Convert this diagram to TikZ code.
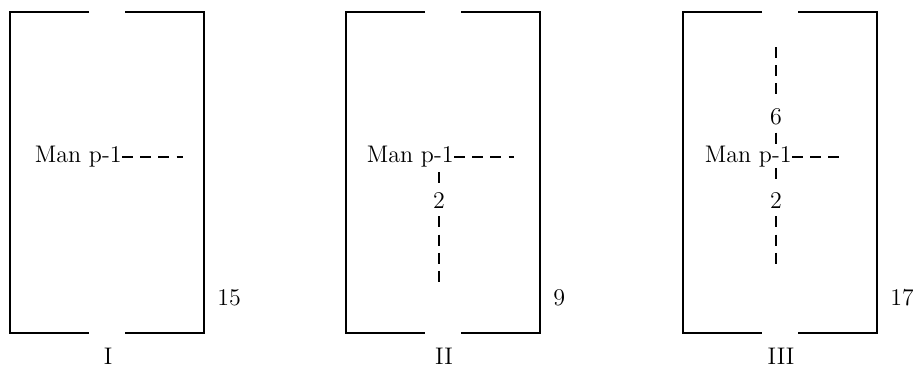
\documentclass[tikz,border=0pt]{standalone}
\usepackage{tikz}
\usetikzlibrary{positioning,calc}

\begin{document}
\begin{tikzpicture}[x=0.5pt, y=-0.5pt,
  wall/.style={draw=black, line width=0.7pt},
  dsh/.style={draw=black, line width=0.65pt, dash pattern=on 5.5pt off 3.6pt},
  lbl/.style={font=\large, inner sep=0pt},
  num/.style={font=\large, inner sep=3.5pt},
]
\useasboundingbox (0,0) rectangle (913,376);
% Three rooms: left edge / right edge / count / roman label
\foreach \L/\R/\n/\r/\id in {10/204/15/I/a, 346/540/9/II/b, 683/877/17/III/c} {
  \draw[wall] (\L+79,12) -- (\L,12) -- (\L,333) -- (\L+79,333);
  \draw[wall] (\L+115,12) -- (\R,12) -- (\R,333) -- (\L+115,333);
  \node[lbl, anchor=west] (cnt\id) at (\R+13,298) {\n};
  \node[lbl] (room\id) at (\L+98,356) {\r};
}

% Room I
\node[lbl, anchor=east] (manI) at (122,157) {Man p-1};
\coordinate (endI) at (183,157);
\draw[dsh] (manI.east) -- (endI);

% Room II
\node[lbl, anchor=east] (manII) at (454,157) {Man p-1};
\coordinate (endII) at (514,157);
\draw[dsh] (manII.east) -- (endII);
\node[num] (twoII) at (439,201) {2};
\coordinate (upII) at (439,172);
\coordinate (botII) at (439,287);
\draw[dsh] (upII) -- (twoII.north);
\draw[dsh] (twoII.south) -- (botII);

% Room III
\node[lbl, anchor=east] (manIII) at (792,157) {Man p-1};
\coordinate (endIII) at (842,157);
\draw[dsh] (manIII.east) -- (endIII);
\node[num] (sixIII) at (776,117) {6};
\node[num] (twoIII) at (776,201) {2};
\coordinate (topIII) at (776,47);
\coordinate (botIII) at (776,267);
\draw[dsh] (topIII) -- (sixIII.north);
\draw[dsh] (sixIII.south) -- (sixIII.south |- manIII.north);
\draw[dsh] (twoIII.north |- manIII.south) -- (twoIII.north);
\draw[dsh] (twoIII.south) -- (botIII);
\end{tikzpicture}
\end{document}
